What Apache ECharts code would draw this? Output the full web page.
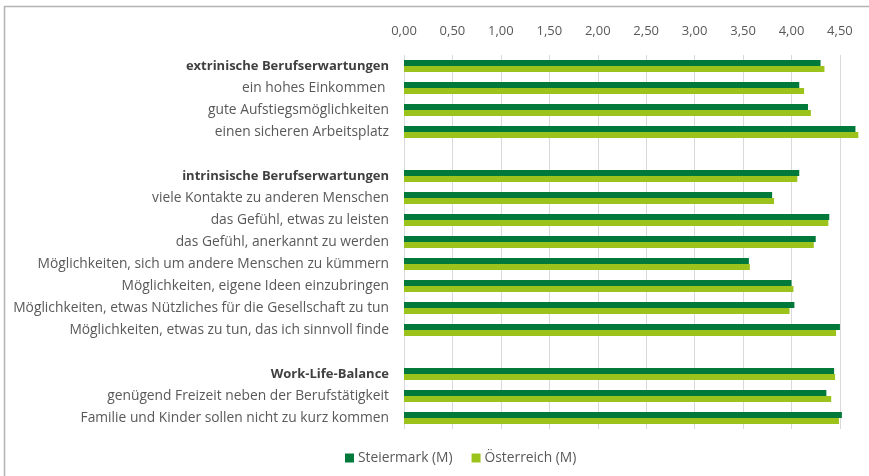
<!DOCTYPE html>
<html>
<head>
<meta charset="utf-8">
<script src="https://cdn.jsdelivr.net/npm/echarts@6/dist/echarts.min.js"></script>
<style>
html,body{margin:0;padding:0;background:#fff;}
#chart{width:869px;height:476px;}
</style>
</head>
<body>
<div id="chart"></div>
<script>
const categories = [
  'extrinische Berufserwartungen',
  'ein hohes Einkommen ',
  'gute Aufstiegsmöglichkeiten',
  'einen sicheren Arbeitsplatz',
  ' ',
  'intrinsische Berufserwartungen',
  'viele Kontakte zu anderen Menschen',
  'das Gefühl, etwas zu leisten',
  'das Gefühl, anerkannt zu werden',
  'Möglichkeiten, sich um andere Menschen zu kümmern',
  'Möglichkeiten, eigene Ideen einzubringen',
  'Möglichkeiten, etwas Nützliches für die Gesellschaft zu tun',
  'Möglichkeiten, etwas zu tun, das ich sinnvoll finde',
  '  ',
  'Work-Life-Balance',
  'genügend Freizeit neben der Berufstätigkeit',
  'Familie und Kinder sollen nicht zu kurz kommen'
];
const headers = ['extrinische Berufserwartungen', 'intrinsische Berufserwartungen', 'Work-Life-Balance'];
const steiermark = [4.30, 4.08, 4.17, 4.66, null, 4.08, 3.80, 4.39, 4.25, 3.56, 4.00, 4.03, 4.50, null, 4.44, 4.36, 4.52];
const oesterreich = [4.34, 4.13, 4.20, 4.69, null, 4.06, 3.82, 4.38, 4.23, 3.57, 4.02, 3.98, 4.46, null, 4.45, 4.41, 4.49];
const seriesNames = ['Steiermark (M)', 'Österreich (M)'];

const chart = echarts.init(document.getElementById('chart'));
const font = '"Open Sans", sans-serif';
chart.setOption({
  animation: false,
  textStyle: { fontFamily: font },
  graphic: [{
    type: 'rect', silent: true, z: -1,
    shape: { x: 4.5, y: 6.5, width: 900, height: 500 },
    style: { fill: 'none', stroke: '#b3b3b3', lineWidth: 1.5 }
  }],
  grid: { left: 404, right: 0, top: 55, bottom: 47, containLabel: false },
  legend: {
    bottom: 6, left: 340,
    itemWidth: 9, itemHeight: 9, itemGap: 19,
    icon: 'rect',
    textStyle: { color: '#595959', fontSize: 13.8, fontFamily: font, padding: [0, 0, 0, -1] },
    data: seriesNames
  },
  xAxis: {
    type: 'value', position: 'top', min: 0, max: 4.8, interval: 0.5,
    axisLine: { show: false }, axisTick: { show: false },
    splitLine: { show: true, lineStyle: { color: '#d9d9d9', width: 1 } },
    axisLabel: {
      color: '#595959', fontSize: 13, margin: 17, showMaxLabel: false,
      formatter: v => (Math.abs(v * 2 - Math.round(v * 2)) < 1e-6) ? v.toFixed(2).replace('.', ',') : ''
    }
  },
  yAxis: {
    type: 'category', inverse: true, data: categories,
    axisLine: { show: false }, axisTick: { show: false },
    axisLabel: {
      margin: 15, fontSize: 13.8, color: '#595959',
      formatter: v => headers.includes(v) ? '{b|' + v + '}' : v,
      rich: { b: { fontWeight: 'bold', color: '#404040', fontSize: 13, fontFamily: font } }
    }
  },
  series: [
    { name: seriesNames[0], type: 'bar', data: steiermark, barWidth: 6, barGap: '0%',
      itemStyle: { color: '#00793A' } },
    { name: seriesNames[1], type: 'bar', data: oesterreich, barWidth: 6, barGap: '0%',
      itemStyle: { color: '#9CC31B' } }
  ]
});
</script>
</body>
</html>
